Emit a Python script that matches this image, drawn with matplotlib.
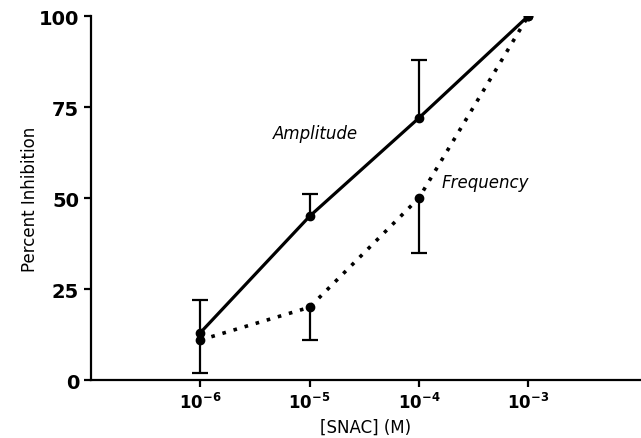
import matplotlib.pyplot as plt

# datos
conc = [1e-6, 1e-5, 1e-4, 1e-3]
tick_labels = ['$\\mathbf{10^{-6}}$', '$\\mathbf{10^{-5}}$', '$\\mathbf{10^{-4}}$', '$\\mathbf{10^{-3}}$']
amplitude = [13, 45, 72, 100]
amp_err_up = [9, 6, 16, 0]
frequency = [11, 20, 50, 100]
freq_err_down = [9, 9, 15, 0]

fig = plt.figure(figsize=(6.41, 4.39), dpi=100)
ax = fig.add_axes([0.142, 0.132, 0.856, 0.829])

# líneas
ax.plot(conc, amplitude, color='black', lw=2.3, marker='o', ms=6)
ax.plot(conc, frequency, color='black', lw=2.6, ls=(0, (1, 2.2)), marker='o', ms=6)

# barras de error de un solo lado (amplitud hacia arriba, frecuencia hacia abajo)
amp_x = [c for c, e in zip(conc, amp_err_up) if e > 0]
amp_lo = [a for a, e in zip(amplitude, amp_err_up) if e > 0]
amp_hi = [a + e for a, e in zip(amplitude, amp_err_up) if e > 0]
ax.vlines(amp_x, amp_lo, amp_hi, color='black', lw=1.6)
ax.plot(amp_x, amp_hi, ls='none', marker='_', ms=12, mew=1.6, color='black')

freq_x = [c for c, e in zip(conc, freq_err_down) if e > 0]
freq_hi = [f for f, e in zip(frequency, freq_err_down) if e > 0]
freq_lo = [f - e for f, e in zip(frequency, freq_err_down) if e > 0]
ax.vlines(freq_x, freq_lo, freq_hi, color='black', lw=1.6)
ax.plot(freq_x, freq_lo, ls='none', marker='_', ms=12, mew=1.6, color='black')

ax.set_xscale('log')
ax.set_xlim(1e-7, 1.05e-2)
ax.set_ylim(0, 100)
ax.set_xticks(conc)
ax.set_xticklabels(tick_labels)
ax.minorticks_off()
ax.set_yticks([0, 25, 50, 75, 100])

for s in ['top', 'right']:
    ax.spines[s].set_visible(False)
for s in ['left', 'bottom']:
    ax.spines[s].set_linewidth(1.6)
ax.tick_params(direction='out', length=5, width=1.6)
ax.tick_params(axis='y', labelsize=14)
ax.tick_params(axis='x', labelsize=12)
for lab in ax.get_yticklabels():
    lab.set_fontweight('bold')

ax.set_xlabel('[SNAC] (M)', fontsize=12)
ax.set_ylabel('Percent Inhibition', fontsize=12, labelpad=0)

ax.text(10 ** -4.945, 68, 'Amplitude', style='italic', fontsize=12, ha='center', va='center')
ax.text(10 ** -3.39, 54.4, 'Frequency', style='italic', fontsize=12, ha='center', va='center')

fig.savefig('out.png', dpi=100)
